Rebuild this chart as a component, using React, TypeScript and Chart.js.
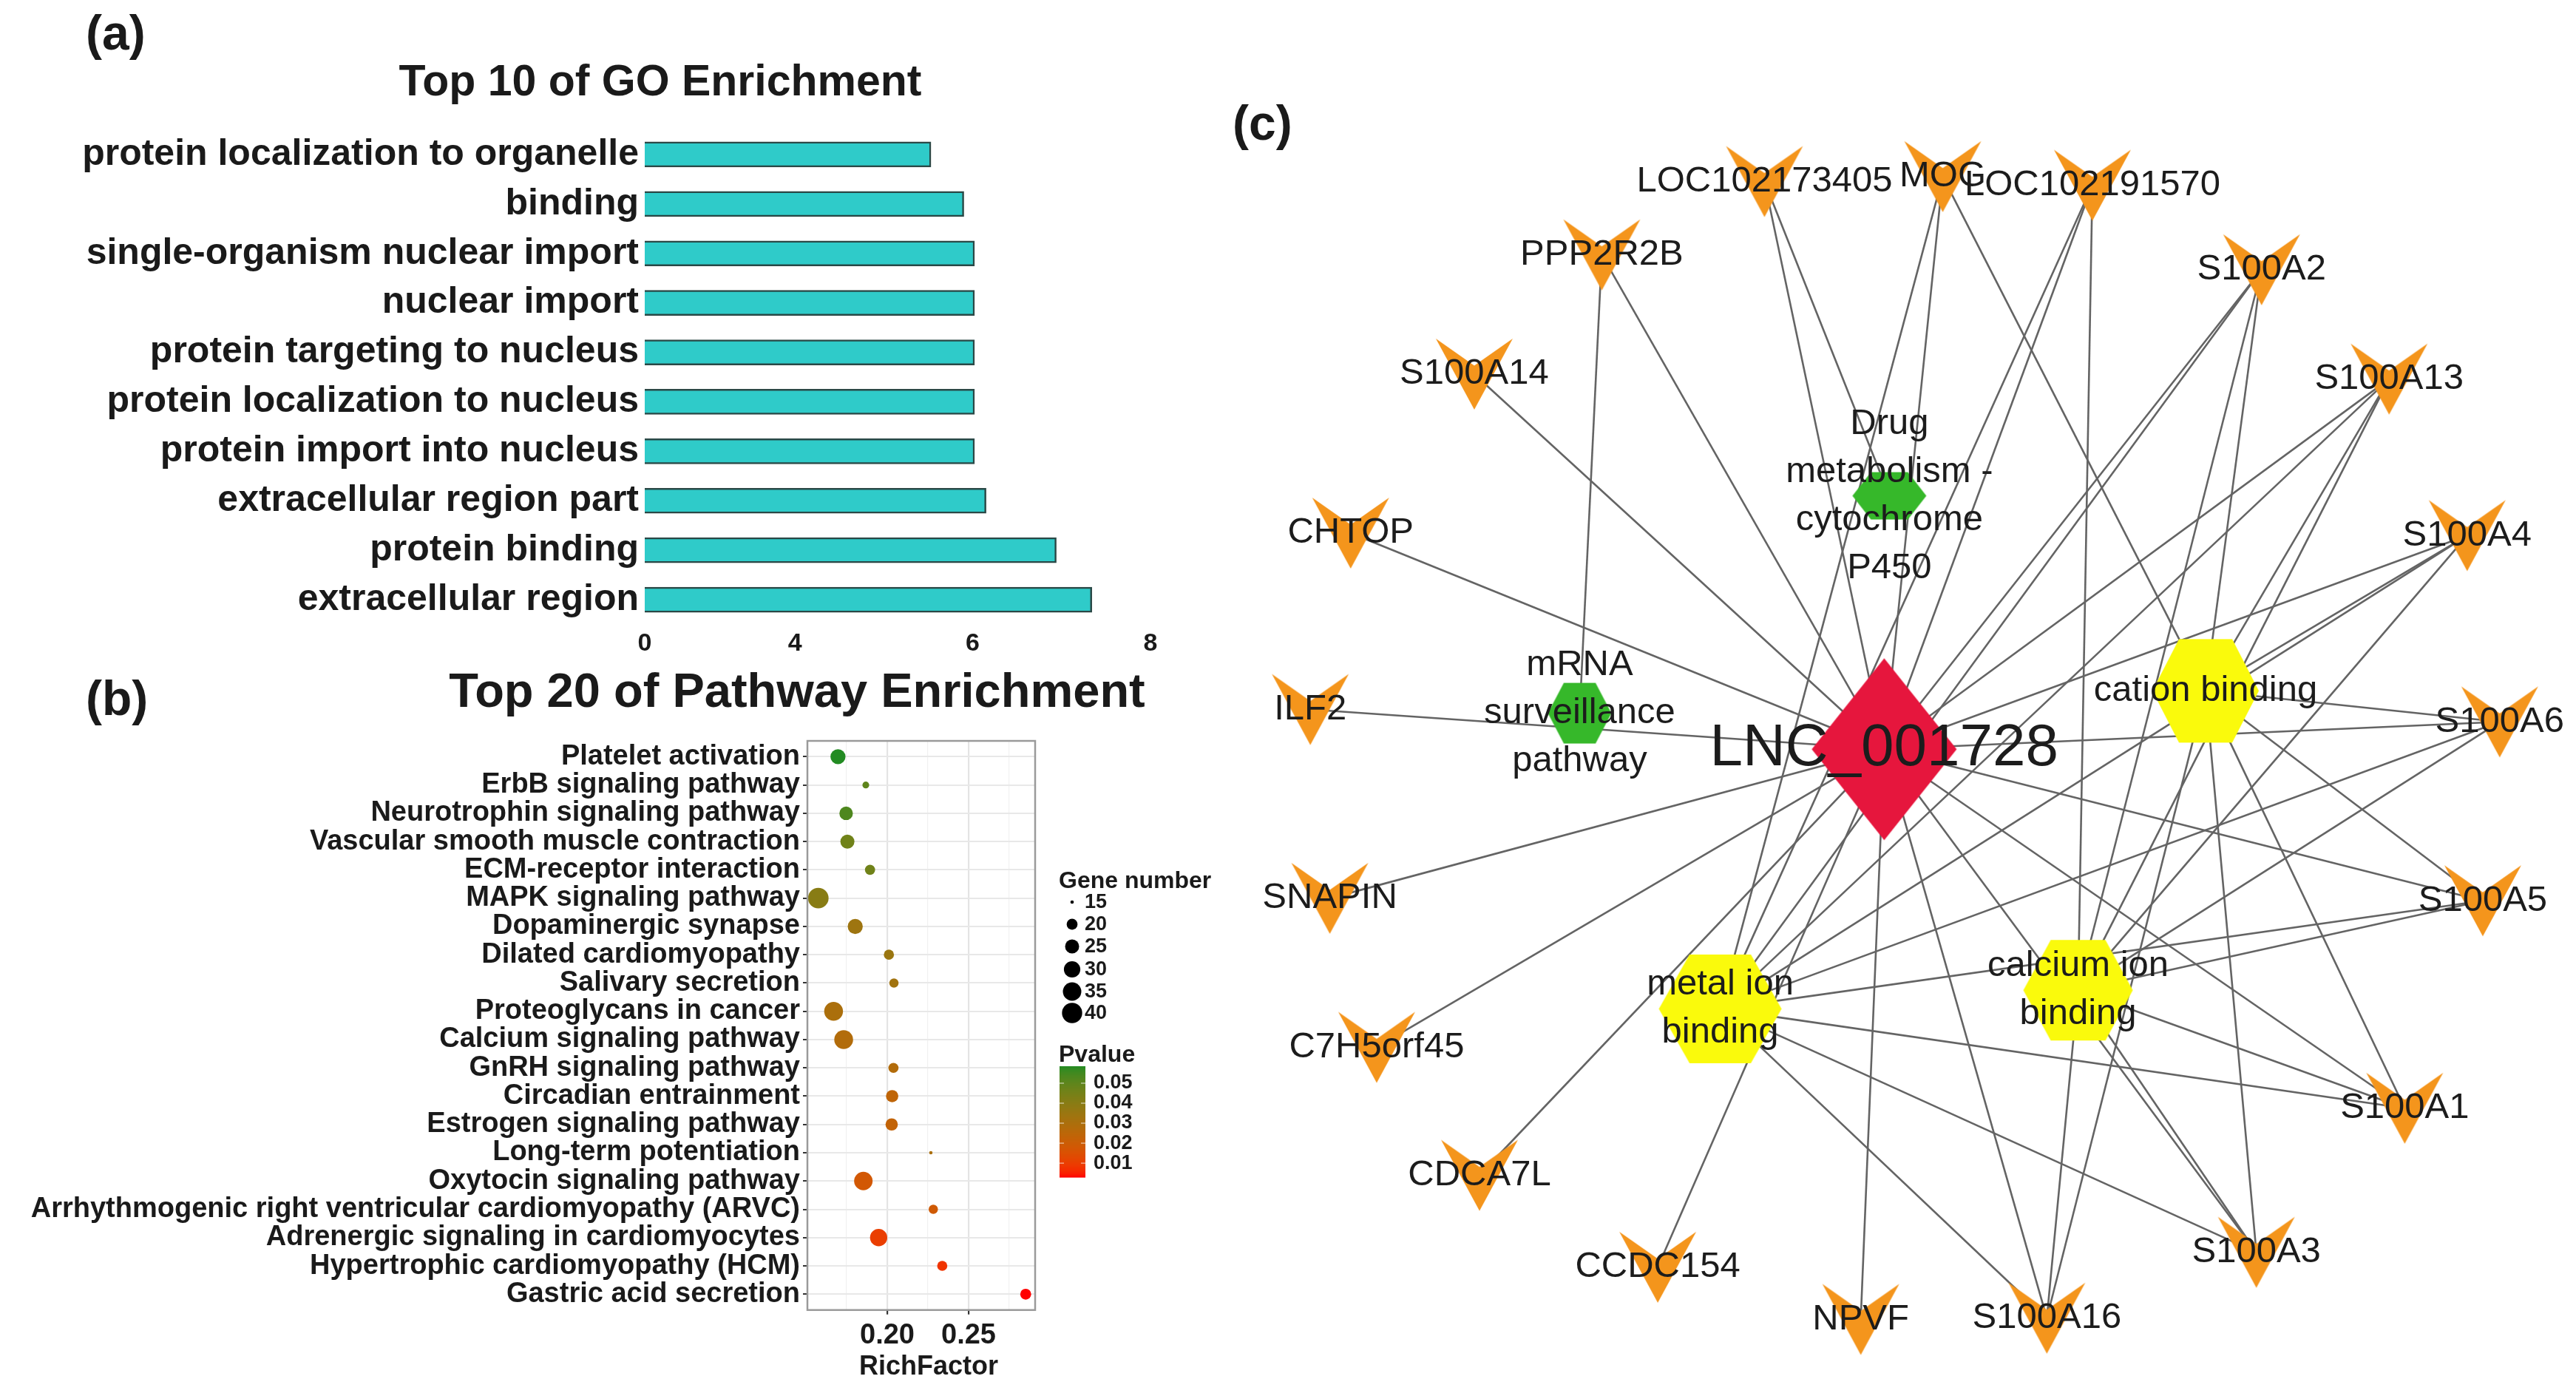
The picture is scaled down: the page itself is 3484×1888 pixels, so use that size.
import React, { useEffect, useRef } from "react";
import { Chart, registerables } from "chart.js";

Chart.register(...registerables);

const FONT = "'Liberation Sans', Arial, Helvetica, sans-serif";
Chart.defaults.font.family = FONT;

// ---------------- Panel (a): GO enrichment ----------------
const GO_TERMS = [
  "protein localization to organelle",
  "binding",
  "single-organism nuclear import",
  "nuclear import",
  "protein targeting to nucleus",
  "protein localization to nucleus",
  "protein import into nucleus",
  "extracellular region part",
  "protein binding",
  "extracellular region",
];
const GO_VALUES = [5.53, 5.9, 6.02, 6.02, 6.02, 6.02, 6.02, 6.15, 6.94, 7.34];
const GO_AXIS_MIN = 2.31;
const GO_AXIS_MAX = 8;
const GO_TICK_VALUES = [2.31, 4, 6, 8];
const GO_TICK_LABELS = ["0", "4", "6", "8"];

// ---------------- Panel (b): pathway enrichment ----------------
const PATHWAYS = [
  "Platelet activation",
  "ErbB signaling pathway",
  "Neurotrophin signaling pathway",
  "Vascular smooth muscle contraction",
  "ECM-receptor interaction",
  "MAPK signaling pathway",
  "Dopaminergic synapse",
  "Dilated cardiomyopathy",
  "Salivary secretion",
  "Proteoglycans in cancer",
  "Calcium signaling pathway",
  "GnRH signaling pathway",
  "Circadian entrainment",
  "Estrogen signaling pathway",
  "Long-term potentiation",
  "Oxytocin signaling pathway",
  "Arrhythmogenic right ventricular cardiomyopathy (ARVC)",
  "Adrenergic signaling in cardiomyocytes",
  "Hypertrophic cardiomyopathy (HCM)",
  "Gastric acid secretion",
];
const RICH_FACTOR = [
  0.1697, 0.1868, 0.1747, 0.1755, 0.1894, 0.1576, 0.1803, 0.201, 0.2041, 0.167,
  0.1732, 0.2038, 0.203, 0.2027, 0.2268, 0.1853, 0.2283, 0.1947, 0.2338, 0.2851,
];
const GENE_NUMBER = [27, 16, 24, 25, 19, 41, 27, 19, 18, 36, 36, 19, 22, 22, 15, 35, 18, 32, 19, 20];
const PVALUE = [
  0.0585, 0.05, 0.053, 0.046, 0.046, 0.04, 0.034, 0.035, 0.033, 0.03,
  0.028, 0.028, 0.024, 0.023, 0.03, 0.018, 0.019, 0.01, 0.008, 0.003,
];
const RICH_MAJOR_TICKS = [0.2, 0.25];
const RICH_MINOR_TICKS = [0.175, 0.225, 0.275];
const RICH_MIN = 0.1509;
const RICH_MAX = 0.2909;
const GENE_LEGEND = [15, 20, 25, 30, 35, 40];
const PVALUE_LEGEND = [0.05, 0.04, 0.03, 0.02, 0.01];

// ---------------- Panel (c): network ----------------
const NODE_NAMES = [
  "LNC_001728",
  "Drug metabolism - cytochrome P450",
  "mRNA surveillance pathway",
  "cation binding",
  "metal ion binding",
  "calcium ion binding",
  "LOC102173405",
  "MOG",
  "LOC102191570",
  "PPP2R2B",
  "S100A2",
  "S100A14",
  "S100A13",
  "CHTOP",
  "S100A4",
  "ILF2",
  "S100A6",
  "SNAPIN",
  "S100A5",
  "C7H5orf45",
  "S100A1",
  "CDCA7L",
  "S100A3",
  "CCDC154",
  "NPVF",
  "S100A16",
];
const NODE_LABELS = [
  "LNC_001728",
  "Drug\nmetabolism -\ncytochrome\nP450",
  "mRNA\nsurveillance\npathway",
  "cation binding",
  "metal ion\nbinding",
  "calcium ion\nbinding",
  "LOC102173405",
  "MOG",
  "LOC102191570",
  "PPP2R2B",
  "S100A2",
  "S100A14",
  "S100A13",
  "CHTOP",
  "S100A4",
  "ILF2",
  "S100A6",
  "SNAPIN",
  "S100A5",
  "C7H5orf45",
  "S100A1",
  "CDCA7L",
  "S100A3",
  "CCDC154",
  "NPVF",
  "S100A16",
];
const NODE_KIND = [
  "lnc", "pathway", "pathway", "go", "go", "go",
  "gene", "gene", "gene", "gene", "gene", "gene", "gene", "gene", "gene", "gene",
  "gene", "gene", "gene", "gene", "gene", "gene", "gene", "gene", "gene", "gene",
];
const NODE_X = [
  48.2, 48.6, 24.8, 72.9, 35.6, 63.1,
  39.0, 52.7, 64.2, 26.5, 77.2, 16.7, 87.0, 7.2, 93.0, 4.1,
  95.5, 5.6, 94.2, 9.2, 88.2, 17.1, 76.8, 30.8, 46.4, 60.7,
];
const NODE_Y = [
  49.6, 29.2, 46.7, 44.9, 70.5, 69.0,
  3.9, 3.5, 4.2, 9.8, 11.0, 19.4, 19.8, 32.2, 32.4, 46.4,
  47.4, 61.6, 61.8, 73.6, 78.5, 83.9, 90.1, 91.3, 95.5, 95.4,
];
const GENES_ALL = NODE_NAMES.filter((_, i) => NODE_KIND[i] === "gene");
const S100_MULTI = ["S100A2", "S100A13", "S100A4", "S100A6", "S100A5", "S100A1", "S100A3", "S100A16"];
const TERM_EDGES: [string, string][] = [
  ["PPP2R2B", "mRNA surveillance pathway"],
  ["LOC102173405", "Drug metabolism - cytochrome P450"],
  ["MOG", "cation binding"],
  ["MOG", "metal ion binding"],
  ["LOC102191570", "metal ion binding"],
  ["LOC102191570", "calcium ion binding"],
];
const EDGES: [string, string][] = [
  ...GENES_ALL.map((g) => ["LNC_001728", g] as [string, string]),
  ...TERM_EDGES,
  ...S100_MULTI.flatMap((g) => [
    [g, "cation binding"] as [string, string],
    [g, "metal ion binding"] as [string, string],
    [g, "calcium ion binding"] as [string, string],
  ]),
];

// node shape sizes (style)
const SHAPE_SIZE: Record<string, [number, number]> = {
  "LNC_001728": [196, 246],
  "Drug metabolism - cytochrome P450": [100, 64],
  "mRNA surveillance pathway": [86, 82],
  "cation binding": [144, 140],
  "metal ion binding": [166, 147],
  "calcium ion binding": [148, 136],
};
const GENE_SIZE: [number, number] = [104, 96];
const KIND_COLOR: Record<string, string> = {
  lnc: "#E6163D",
  pathway: "#36B82A",
  go: "#FAFA0C",
  gene: "#F4951C",
};

// ---------------- helpers ----------------
function srgbToLin(c: number) {
  c /= 255;
  return c <= 0.04045 ? c / 12.92 : Math.pow((c + 0.055) / 1.055, 2.4);
}
function linToSrgb(c: number) {
  const v = c <= 0.0031308 ? 12.92 * c : 1.055 * Math.pow(c, 1 / 2.4) - 0.055;
  return Math.round(Math.min(1, Math.max(0, v)) * 255);
}
function hexToLab(hex: string) {
  const n = parseInt(hex.slice(1), 16);
  const R = srgbToLin((n >> 16) & 255), G = srgbToLin((n >> 8) & 255), B = srgbToLin(n & 255);
  const X = (0.4124 * R + 0.3576 * G + 0.1805 * B) / 0.95047;
  const Y = 0.2126 * R + 0.7152 * G + 0.0722 * B;
  const Z = (0.0193 * R + 0.1192 * G + 0.9505 * B) / 1.08883;
  const f = (t: number) => (t > 216 / 24389 ? Math.cbrt(t) : (24389 / 27 * t + 16) / 116);
  const fx = f(X), fy = f(Y), fz = f(Z);
  return [116 * fy - 16, 500 * (fx - fy), 200 * (fy - fz)];
}
function labToCss(L: number, a: number, b: number) {
  const fy = (L + 16) / 116, fx = fy + a / 500, fz = fy - b / 200;
  const finv = (t: number) => (t * t * t > 216 / 24389 ? t * t * t : (116 * t - 16) / (24389 / 27));
  const X = finv(fx) * 0.95047, Y = finv(fy), Z = finv(fz) * 1.08883;
  const R = 3.2406 * X - 1.5372 * Y - 0.4986 * Z;
  const G = -0.9689 * X + 1.8758 * Y + 0.0415 * Z;
  const B = 0.0557 * X - 0.204 * Y + 1.057 * Z;
  return `rgb(${linToSrgb(R)},${linToSrgb(G)},${linToSrgb(B)})`;
}
const LOW_LAB = hexToLab("#FF0000");
const HIGH_LAB = hexToLab("#228B22");
const P_MIN = Math.min(...PVALUE);
const P_MAX = Math.max(...PVALUE);
function pColor(p: number) {
  const t = Math.min(1, Math.max(0, (p - P_MIN) / (P_MAX - P_MIN)));
  return labToCss(
    LOW_LAB[0] + (HIGH_LAB[0] - LOW_LAB[0]) * t,
    LOW_LAB[1] + (HIGH_LAB[1] - LOW_LAB[1]) * t,
    LOW_LAB[2] + (HIGH_LAB[2] - LOW_LAB[2]) * t
  );
}
const G_MIN = Math.min(...GENE_NUMBER);
const G_MAX = Math.max(...GENE_NUMBER);
const R_MIN = 2.3;
const R_MAX = 13.9;
function geneRadius(g: number) {
  const t = Math.min(1, Math.max(0, (g - G_MIN) / (G_MAX - G_MIN)));
  return R_MIN + (R_MAX - R_MIN) * Math.sqrt(t);
}

function text(ctx: CanvasRenderingContext2D, s: string, x: number, y: number, size: number, bold: boolean, align: CanvasTextAlign = "left", color = "#1a1a1a") {
  ctx.save();
  ctx.font = `${bold ? "bold " : ""}${size}px ${FONT}`;
  ctx.textAlign = align;
  ctx.textBaseline = "middle";
  ctx.fillStyle = color;
  ctx.fillText(s, x, y);
  ctx.restore();
}

function makeShape(kind: string, w: number, h: number, color: string): HTMLCanvasElement {
  const c = document.createElement("canvas");
  c.width = Math.ceil(w) + 2;
  c.height = Math.ceil(h) + 2;
  const g = c.getContext("2d")!;
  const cx = c.width / 2, cy = c.height / 2;
  g.fillStyle = color;
  g.beginPath();
  if (kind === "gene") {
    g.moveTo(cx - w / 2, cy - h / 2);
    g.lineTo(cx, cy - h / 2 + 0.38 * h);
    g.lineTo(cx + w / 2, cy - h / 2);
    g.lineTo(cx, cy + h / 2);
  } else if (kind === "lnc") {
    g.moveTo(cx, cy - h / 2);
    g.lineTo(cx + w / 2, cy);
    g.lineTo(cx, cy + h / 2);
    g.lineTo(cx - w / 2, cy);
  } else {
    g.moveTo(cx - w / 2, cy);
    g.lineTo(cx - w / 4, cy - h / 2);
    g.lineTo(cx + w / 4, cy - h / 2);
    g.lineTo(cx + w / 2, cy);
    g.lineTo(cx + w / 4, cy + h / 2);
    g.lineTo(cx - w / 4, cy + h / 2);
  }
  g.closePath();
  g.fill();
  return c;
}

// ---------------- Components ----------------
function GoBarChart() {
  const ref = useRef<HTMLCanvasElement>(null);
  useEffect(() => {
    const textPlugin = {
      id: "goText",
      afterDraw(chart: any) {
        const ctx = chart.ctx;
        text(ctx, "(a)", 116, 49, 66, true);
        text(ctx, "Top 10 of GO Enrichment", 893, 113, 59, true, "center");
      },
    };
    const chart = new Chart(ref.current!, {
      type: "bar",
      data: {
        labels: GO_TERMS,
        datasets: [
          {
            data: GO_VALUES,
            backgroundColor: "#2FCBC9",
            borderColor: "#2A4846",
            borderWidth: 2.5,
            borderSkipped: false,
            barThickness: 34,
          },
        ],
      },
      options: {
        indexAxis: "y",
        responsive: false,
        animation: false,
        devicePixelRatio: 1,
        events: [],
        layout: { padding: { left: 0, right: 94, top: 175.5, bottom: 15.5 } },
        plugins: { legend: { display: false }, tooltip: { enabled: false }, title: { display: false } },
        scales: {
          x: {
            type: "linear",
            min: GO_AXIS_MIN,
            max: GO_AXIS_MAX,
            grid: { display: false, drawTicks: false },
            border: { display: false },
            afterBuildTicks: (s: any) => {
              s.ticks = GO_TICK_VALUES.map((v) => ({ value: v }));
            },
            afterFit: (s: any) => {
              s.height = 40;
            },
            ticks: {
              padding: 6,
              autoSkip: false,
              maxRotation: 0,
              color: "#1a1a1a",
              font: { family: FONT, size: 34, weight: "bold" },
              callback: (v: any) => {
                const i = GO_TICK_VALUES.indexOf(Number(v));
                return i >= 0 ? GO_TICK_LABELS[i] : "";
              },
            },
          },
          y: {
            grid: { display: false, drawTicks: false },
            border: { display: false },
            afterFit: (s: any) => {
              s.width = 872;
            },
            ticks: {
              padding: 8,
              autoSkip: false,
              color: "#1a1a1a",
              font: { family: FONT, size: 50, weight: "bold" },
            },
          },
        },
      } as any,
      plugins: [textPlugin],
    });
    return () => chart.destroy();
  }, []);
  return <canvas ref={ref} width={1650} height={900} style={{ position: "absolute", left: 0, top: 0, width: 1650, height: 900 }} />;
}

function PathwayBubbleChart() {
  const ref = useRef<HTMLCanvasElement>(null);
  useEffect(() => {
    const textPlugin = {
      id: "pwText",
      afterDatasetsDraw(chart: any) {
        const ctx = chart.ctx;
        const a = chart.chartArea;
        ctx.save();
        ctx.strokeStyle = "#9a9a9a";
        ctx.lineWidth = 2.5;
        ctx.strokeRect(a.left, a.top, a.right - a.left, a.bottom - a.top);
        ctx.restore();
      },
      afterDraw(chart: any) {
        const ctx = chart.ctx;
        text(ctx, "(b)", 116, 49, 66, true);
        text(ctx, "Top 20 of Pathway Enrichment", 1078, 38, 65, true, "center");
        text(ctx, "RichFactor", 1256, 949, 36, true, "center");
        // size legend
        text(ctx, "Gene number", 1432, 292, 32, true);
        const ys = [320, 350, 380, 411, 441, 470];
        GENE_LEGEND.forEach((g, i) => {
          ctx.save();
          ctx.fillStyle = "#000";
          ctx.beginPath();
          ctx.arc(1450, ys[i], geneRadius(g), 0, Math.PI * 2);
          ctx.fill();
          ctx.restore();
          text(ctx, String(g), 1467, ys[i] + 1, 27, true);
        });
        // colour legend
        text(ctx, "Pvalue", 1432, 527, 32, true);
        const barTop = 542, barBot = 692, barL = 1433, barW = 35;
        const steps = 150;
        for (let k = 0; k < steps; k++) {
          const p = P_MAX - ((P_MAX - P_MIN) * (k + 0.5)) / steps;
          ctx.fillStyle = pColor(p);
          ctx.fillRect(barL, barTop + ((barBot - barTop) * k) / steps, barW, (barBot - barTop) / steps + 0.6);
        }
        PVALUE_LEGEND.forEach((p) => {
          const y = barBot - ((p - P_MIN) / (P_MAX - P_MIN)) * (barBot - barTop);
          ctx.save();
          ctx.strokeStyle = "rgba(255,255,255,0.8)";
          ctx.lineWidth = 1;
          ctx.beginPath();
          ctx.moveTo(barL, y);
          ctx.lineTo(barL + 6, y);
          ctx.moveTo(barL + barW - 6, y);
          ctx.lineTo(barL + barW, y);
          ctx.stroke();
          ctx.restore();
          text(ctx, p.toFixed(2), 1479, y, 27, true);
        });
      },
    };
    const chart = new Chart(ref.current!, {
      type: "bubble",
      data: {
        datasets: [
          {
            data: PATHWAYS.map((_, i) => ({ x: RICH_FACTOR[i], y: i, r: geneRadius(GENE_NUMBER[i]) })),
            backgroundColor: PVALUE.map((p) => pColor(p)),
            borderWidth: 0,
            hoverRadius: 0,
          },
        ],
      },
      options: {
        responsive: false,
        animation: false,
        devicePixelRatio: 1,
        events: [],
        layout: { padding: { left: 0, right: 250, top: 102, bottom: 36.3 } },
        plugins: { legend: { display: false }, tooltip: { enabled: false } },
        scales: {
          x: {
            type: "linear",
            min: RICH_MIN,
            max: RICH_MAX,
            afterBuildTicks: (s: any) => {
              s.ticks = [...RICH_MINOR_TICKS, ...RICH_MAJOR_TICKS].sort((p, q) => p - q).map((v) => ({ value: v }));
            },
            afterFit: (s: any) => {
              s.height = 80;
            },
            border: { display: false },
            grid: {
              color: (c: any) => (RICH_MAJOR_TICKS.includes(c.tick?.value) ? "#e4e4e4" : "#f1f1f1"),
              lineWidth: (c: any) => (RICH_MAJOR_TICKS.includes(c.tick?.value) ? 2.2 : 1.2),
              tickColor: (c: any) => (RICH_MAJOR_TICKS.includes(c.tick?.value) ? "#333" : "rgba(0,0,0,0)"),
              tickLength: 6,
            },
            ticks: {
              padding: 6,
              autoSkip: false,
              maxRotation: 0,
              color: "#1a1a1a",
              font: { family: FONT, size: 38, weight: "bold" },
              callback: (v: any) => (RICH_MAJOR_TICKS.includes(Number(v)) ? Number(v).toFixed(2) : ""),
            },
          },
          y: {
            type: "linear",
            reverse: true,
            min: -0.56,
            max: PATHWAYS.length - 1 + 0.56,
            afterBuildTicks: (s: any) => {
              s.ticks = PATHWAYS.map((_, i) => ({ value: i }));
            },
            afterFit: (s: any) => {
              s.width = 1092;
            },
            border: { display: false },
            grid: { color: "#e8e8e8", lineWidth: 2, tickColor: "#333", tickLength: 6 },
            ticks: {
              padding: 4,
              autoSkip: false,
              color: "#1a1a1a",
              font: { family: FONT, size: 38, weight: "bold" },
              callback: (v: any) => PATHWAYS[Number(v)] ?? "",
            },
          },
        },
      } as any,
      plugins: [textPlugin],
    });
    return () => chart.destroy();
  }, []);
  return <canvas ref={ref} width={1650} height={988} style={{ position: "absolute", left: 0, top: 900, width: 1650, height: 988 }} />;
}

function NetworkChart() {
  const ref = useRef<HTMLCanvasElement>(null);
  useEffect(() => {
    const idx = (n: string) => NODE_NAMES.indexOf(n);
    const images = NODE_NAMES.map((n, i) => {
      const kind = NODE_KIND[i];
      const [w, h] = kind === "gene" ? GENE_SIZE : SHAPE_SIZE[n];
      return makeShape(kind, w, h, KIND_COLOR[kind]);
    });
    const edgeSets = EDGES.map(([a, b]) => ({
      data: [
        { x: NODE_X[idx(a)], y: NODE_Y[idx(a)] },
        { x: NODE_X[idx(b)], y: NODE_Y[idx(b)] },
      ],
      showLine: true,
      borderColor: "#646464",
      borderWidth: 2.6,
      pointRadius: 0,
      order: 2,
    }));
    const labelPlugin = {
      id: "netLabels",
      afterDatasetsDraw(chart: any) {
        const ctx = chart.ctx;
        const xs = chart.scales.x, ys = chart.scales.y;
        NODE_NAMES.forEach((n, i) => {
          const px = xs.getPixelForValue(NODE_X[i]);
          const py = ys.getPixelForValue(NODE_Y[i]);
          const lines = NODE_LABELS[i].split("\n");
          const big = NODE_KIND[i] === "lnc";
          const size = big ? 80 : 49;
          const lh = 65;
          lines.forEach((ln, k) => {
            text(ctx, ln, px, py + (k - (lines.length - 1) / 2) * lh, size, false, "center", "#1c1c1c");
          });
        });
      },
      afterDraw(chart: any) {
        text(chart.ctx, "(c)", 17, 171, 66, true);
      },
    };
    const chart = new Chart(ref.current!, {
      type: "scatter",
      data: {
        datasets: [
          {
            data: NODE_NAMES.map((_, i) => ({ x: NODE_X[i], y: NODE_Y[i] })),
            pointStyle: (c: any) => images[c.dataIndex],
            pointRadius: 20,
            showLine: false,
            order: 0,
          },
          ...edgeSets,
        ],
      },
      options: {
        responsive: false,
        animation: false,
        devicePixelRatio: 1,
        events: [],
        layout: { padding: { left: 50, right: 24, top: 180, bottom: 28 } },
        plugins: { legend: { display: false }, tooltip: { enabled: false } },
        scales: {
          x: { type: "linear", min: 0, max: 100, display: false },
          y: { type: "linear", min: 0, max: 100, reverse: true, display: false },
        },
      } as any,
      plugins: [labelPlugin],
    });
    return () => chart.destroy();
  }, []);
  return <canvas ref={ref} width={1834} height={1888} style={{ position: "absolute", left: 1650, top: 0, width: 1834, height: 1888 }} />;
}

export default function App() {
  return (
    <div style={{ position: "absolute", left: 0, top: 0, width: 3484, height: 1888, background: "#ffffff", overflow: "hidden" }}>
      <GoBarChart />
      <PathwayBubbleChart />
      <NetworkChart />
    </div>
  );
}
